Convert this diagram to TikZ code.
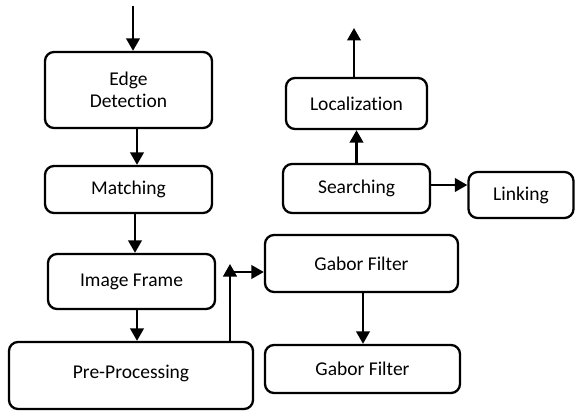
\documentclass[tikz,border=0pt]{standalone}
\usepackage{fontspec}
\setmainfont[Ligatures={NoCommon}]{Carlito}
\usetikzlibrary{arrows.meta}
\begin{document}
\begin{tikzpicture}[x=1pt,y=-1pt,
  box/.style={draw=black,line width=2.3pt,rounded corners=9pt,fill=white,
    inner sep=0pt,align=center,font=\fontsize{19.5}{22}\selectfont},
  arr/.style={line width=2.4pt,-{Triangle[length=12.5pt,width=13.5pt]}}]
\useasboundingbox[fill=white] (0,0) rectangle (576,412);
\node[box,minimum width=167pt,minimum height=76pt] (edge) at (128.5,90) {Edge\\Detection};
\node[box,minimum width=167pt,minimum height=47pt] (match) at (128.5,189.5) {Matching};
\node[box,minimum width=167pt,minimum height=55pt] (frame) at (131.5,281.5) {Image Frame};
\node[box,minimum width=244pt,minimum height=67pt] (pre) at (131,375.5) {\raisebox{8pt}{Pre-Processing}};
\node[box,minimum width=193pt,minimum height=57pt] (gab1) at (361.5,263.5) {Gabor Filter};
\node[box,minimum width=195pt,minimum height=48pt] (gab2) at (362.5,369) {Gabor Filter};
\node[box,minimum width=141pt,minimum height=51pt] (loc) at (356.5,103.5) {Localization};
\node[box,minimum width=147pt,minimum height=49pt] (search) at (356.5,188.5) {Searching};
\node[box,minimum width=105pt,minimum height=46pt] (link) at (521,195) {Linking};
\coordinate (in) at (133,6);
\coordinate (out) at (354,28);
\coordinate (turn) at (230,264);
\coordinate (hs) at (230,272);
\draw[arr] (in) -- (in |- edge.north);
\draw[arr] ([xshift=8.5pt]edge.south) -- ([xshift=8.5pt]edge.south |- match.north);
\draw[arr] ([xshift=6.5pt]match.south) -- ([xshift=6.5pt]match.south |- frame.north);
\draw[arr] ([xshift=5.5pt]frame.south) -- ([xshift=5.5pt]frame.south |- pre.north);
\draw[arr] (pre.north -| turn) -- (turn);
\draw[arr] (hs) -- (hs -| gab1.west);
\draw[arr] ([xshift=1.5pt]gab1.south) -- ([xshift=1.5pt]gab1.south |- gab2.north);
\draw[arr] (search.north) -- (loc.south);
\draw[arr] ([xshift=-2.5pt]loc.north) -- (out);
\draw[arr] ([yshift=3.5pt]search.east) -- ([yshift=3.5pt]search.east -| link.west);
\end{tikzpicture}
\end{document}
